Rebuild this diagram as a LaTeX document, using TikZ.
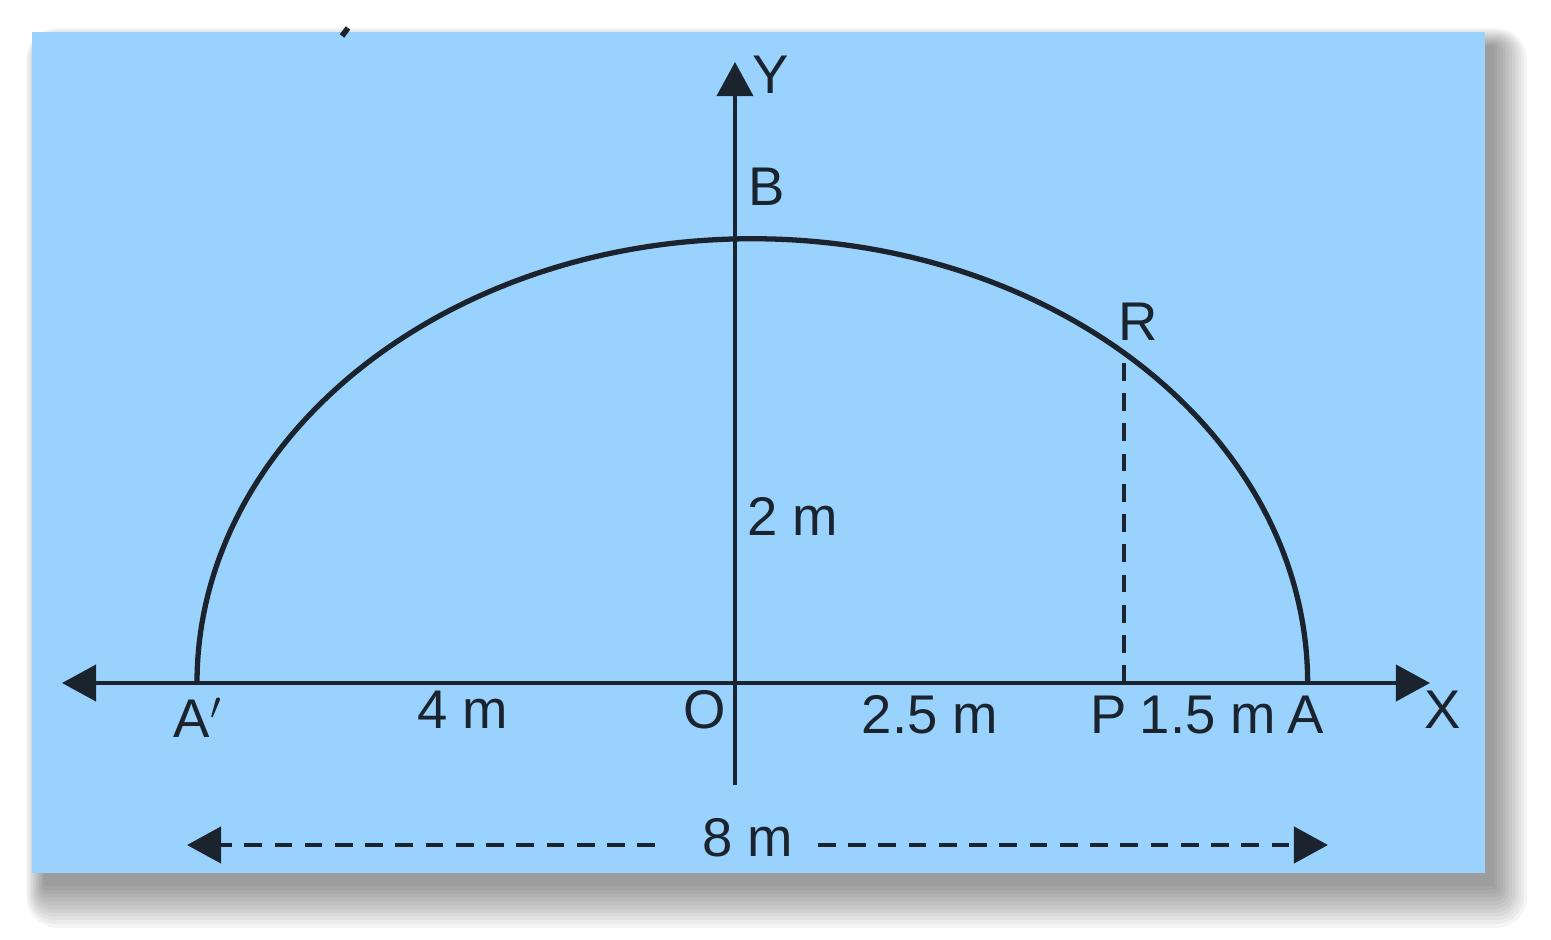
\documentclass[tikz,border=0pt]{standalone}
\usepackage{fontspec}
\setmainfont{Liberation Sans}
\usetikzlibrary{arrows.meta}
\usetikzlibrary{calc}
\usetikzlibrary{positioning}

\definecolor{sky}{HTML}{99D3FD}
\definecolor{ink}{HTML}{1B242E}

\begin{document}
\begin{tikzpicture}
	[
	x=0.01cm, y=-0.01cm,
  > = {Triangle[length=3.4mm, width=3.6mm]},
  every node/.style = {text=ink, font=\fontsize{15.5}{17}\selectfont, inner sep=0pt},
  axis/.style = {draw=ink, line width=1.1pt},
  curve/.style = {draw=ink, line width=1.5pt},
  dimline/.style = {draw=ink, line width=1.2pt, dash pattern=on 5pt off 3.6pt}
  ]
	\useasboundingbox (0,0) rectangle (1551,940);

	% blurred shadow and the sheet
	\foreach \i in {0,...,11}
		\fill[black, opacity=0.04, rounded corners=\i*0.8pt]
			($(44,46)+(-\i*1.6,-\i*1.6)$) rectangle ($(1494,886)+(\i*3,\i*3.8)$);
	\fill[sky] (32,32) rectangle (1485,873);
	\draw[ink, line width=1.6pt] (342,36) -- (348,28);

	\coordinate (O)   at (735,683);
	\coordinate (@Xl) at (62,683);
	\coordinate (@Xr) at (1430,683);
	\coordinate (@Yb) at (735,785);
	\coordinate (@Yt) at (735,62);
	\coordinate (A')  at (197,683);
	\coordinate (A)   at (1307,683);
	\coordinate (P)   at (1124,683);
	\coordinate (R)   at (1124,353);
	\coordinate (@L8) at (187,845);
	\coordinate (@R8) at (1328,845);
	\coordinate (@D1) at (655,845);
	\coordinate (@D2) at (818,845);

	\draw[axis,->] (O) -- (@Xr);
	\draw[axis,->] (O) -- (@Xl);
	\draw[axis,->] (@Yb) -- (@Yt);

	\draw[curve] (A') arc[start angle=180, end angle=0, x radius=5.55cm, y radius=4.44cm];
	\draw[dimline] (P) -- (R);

	\draw[dimline,->] (@D1) -- (@L8);
	\draw[dimline,->] (@D2) -- (@R8);

	\node (Ytxt)  at (771,75)   {Y};
	\node (Btxt)  at (767,187)  {B};
	\node (Rtxt)  at (1138,322) {R};
	\node (two)   at (793,516)  {2 m};
	\node (A'txt) at (198,718)  {A$'$};
	\node (four)  at (463,710)  {4 m};
	\node (Otxt)  at (705,710)  {O};
	\node (twoh)  at (930,715)  {2.5 m};
	\node (Ptxt)  at (1109,715) {P};
	\node (oneh)  at (1208,715) {1.5 m};
	\node (Atxt)  at (1306,715) {A};
	\node (Xtxt)  at (1443,710) {X};
	\node (eight) at (748,838)  {8 m};

\end{tikzpicture}
\end{document}
